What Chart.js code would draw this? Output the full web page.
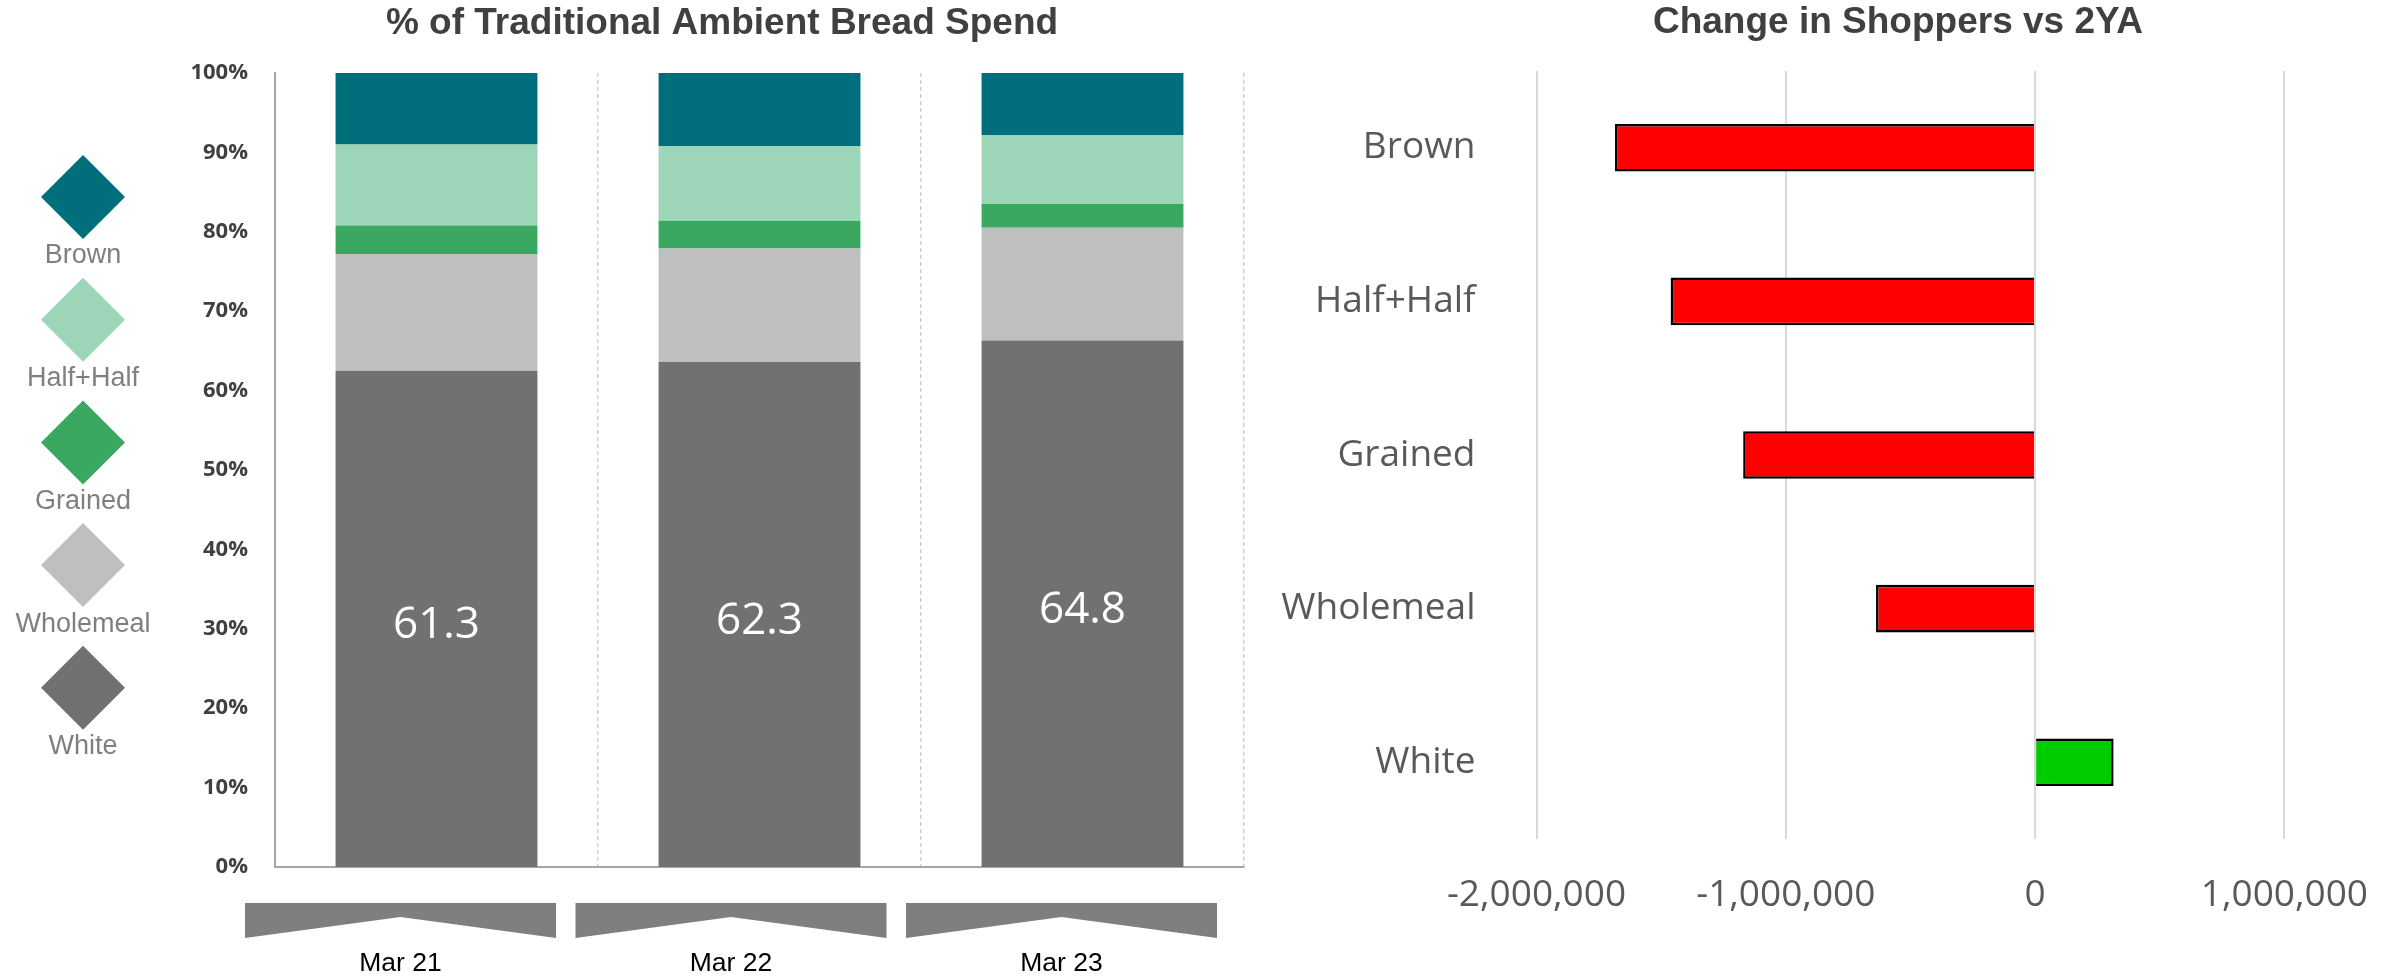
<!DOCTYPE html>
<html>
<head>
<meta charset="utf-8">
<script src="https://cdn.jsdelivr.net/npm/chart.js@4/dist/chart.umd.min.js"></script>
<style>
    html, body { margin: 0; padding: 0; background: #ffffff; }
    #wrap { position: relative; width: 2402px; height: 977px; overflow: hidden; }
    #spendChart { position: absolute; left: 0; top: 0; }
    #shopperChart { position: absolute; left: 1260px; top: 0; }
</style>
</head>
<body>
<div id="wrap">
    <canvas id="spendChart" width="1260" height="977"></canvas>
    <canvas id="shopperChart" width="1142" height="977"></canvas>
</div>
<script>
// data
const periods = ['Mar 21', 'Mar 22', 'Mar 23'];
const whiteShare = [62.5, 63.6, 66.3];
const wholemealShare = [14.7, 14.3, 14.2];
const grainedShare = [3.6, 3.5, 3.0];
const halfShare = [10.2, 9.4, 8.7];
const brownShare = [9.0, 9.2, 7.8];
const whiteLabels = ['61.3', '62.3', '64.8'];
const shareTickStep = 10;

const shopperTypes = ['Brown', 'Half+Half', 'Grained', 'Wholemeal', 'White'];
const shopperChange = [-1685000, -1462000, -1171000, -638000, 315000];
const shopperTickStep = 1000000;

const sansText = '"Open Sans", "Noto Sans", sans-serif';
const arialText = '"Liberation Sans", Arial, sans-serif';

Chart.defaults.animation = false;
Chart.defaults.responsive = false;
Chart.defaults.devicePixelRatio = 1;
Chart.defaults.plugins.legend.display = false;
Chart.defaults.plugins.tooltip.enabled = false;

// Title drawn at a fixed spot over the canvas
const titlePlugin = {
    id: 'fixedTitle',
    afterDraw(chart, args, opts) {
        const ctx = chart.ctx;
        ctx.save();
        ctx.font = 'bold 37px ' + arialText;
        ctx.fillStyle = '#404040';
        ctx.textAlign = 'center';
        ctx.textBaseline = 'middle';
        ctx.fillText(opts.text, opts.x, opts.y);
        ctx.restore();
    }
};

// Diamond legend on the left + white value labels + period banners
const spendDecor = {
    id: 'spendDecor',
    afterDatasetsDraw(chart) {
        const ctx = chart.ctx;
        // labels in the middle of the White segment
        const meta = chart.getDatasetMeta(0);
        ctx.save();
        ctx.font = '44px ' + sansText;
        ctx.fillStyle = '#ffffff';
        ctx.textAlign = 'center';
        ctx.textBaseline = 'middle';
        meta.data.forEach((bar, i) => {
            const c = bar.getCenterPoint();
            ctx.fillText(whiteLabels[i], c.x, c.y + 7);
        });
        ctx.restore();
    },
    afterDraw(chart) {
        const ctx = chart.ctx;
        const sets = chart.data.datasets.slice().reverse();

        ctx.save();
        sets.forEach((ds, i) => {
            const cx = 83;
            const cy = 197 + i * 122.7;
            ctx.fillStyle = ds.backgroundColor;
            ctx.beginPath();
            ctx.moveTo(cx, cy - 42);
            ctx.lineTo(cx + 42, cy);
            ctx.lineTo(cx, cy + 42);
            ctx.lineTo(cx - 42, cy);
            ctx.closePath();
            ctx.fill();

            ctx.font = '27px ' + arialText;
            ctx.fillStyle = '#7f7f7f';
            ctx.textAlign = 'center';
            ctx.textBaseline = 'middle';
            ctx.fillText(ds.label, cx, cy + 59);
        });

        // banner shapes under the axis with the period names
        periods.forEach((p, i) => {
            const left = 245 + i * 330.5;
            const w = 311;
            ctx.fillStyle = '#7f7f7f';
            ctx.beginPath();
            ctx.moveTo(left, 903);
            ctx.lineTo(left + w, 903);
            ctx.lineTo(left + w, 938);
            ctx.lineTo(left + w / 2, 917);
            ctx.lineTo(left, 938);
            ctx.closePath();
            ctx.fill();

            ctx.font = '26.5px ' + arialText;
            ctx.fillStyle = '#000000';
            ctx.textAlign = 'center';
            ctx.textBaseline = 'alphabetic';
            ctx.fillText(p, left + w / 2, 971);
        });
        ctx.restore();
    }
};

const spendCtx = document.getElementById('spendChart').getContext('2d');
new Chart(spendCtx, {
    type: 'bar',
    data: {
        labels: periods,
        datasets: [
            { label: 'White', data: whiteShare, backgroundColor: '#717171' },
            { label: 'Wholemeal', data: wholemealShare, backgroundColor: '#bfbfbf' },
            { label: 'Grained', data: grainedShare, backgroundColor: '#3aa860' },
            { label: 'Half+Half', data: halfShare, backgroundColor: '#9dd5b8' },
            { label: 'Brown', data: brownShare, backgroundColor: '#006f7b' }
        ]
    },
    options: {
        layout: { padding: { top: 73, right: 16, bottom: 110, left: 0 } },
        datasets: { bar: { categoryPercentage: 1, barPercentage: 0.625 } },
        scales: {
            x: {
                stacked: true,
                ticks: { display: false },
                grid: { color: '#d0d0d0', lineWidth: 1.5, drawTicks: false, offset: true },
                border: { color: '#a6a6a6', width: 2, dash: [4, 3] },
                afterFit(scale) { scale.height = 0; }
            },
            y: {
                stacked: true,
                min: 0,
                max: 100,
                ticks: {
                    stepSize: shareTickStep,
                    padding: 27,
                    color: '#404040',
                    font: { family: sansText, size: 22, weight: 'bold' },
                    callback: v => v + '%'
                },
                grid: { display: false, drawTicks: false },
                border: { color: '#a6a6a6', width: 2 },
                afterFit(scale) { scale.width = 275; }
            }
        },
        plugins: {
            fixedTitle: { text: '% of Traditional Ambient Bread Spend', x: 722, y: 24 }
        }
    },
    plugins: [titlePlugin, spendDecor]
});

const shopperCtx = document.getElementById('shopperChart').getContext('2d');
new Chart(shopperCtx, {
    type: 'bar',
    data: {
        labels: shopperTypes,
        datasets: [{
            label: 'Change in Shoppers vs 2YA',
            data: shopperChange,
            backgroundColor: shopperChange.map(v => v < 0 ? '#ff0000' : '#00cc00'),
            borderColor: '#000000',
            borderWidth: 2.5
        }]
    },
    options: {
        indexAxis: 'y',
        layout: { padding: { top: 71, right: 112, bottom: 0, left: 0 } },
        datasets: { bar: { categoryPercentage: 1, barPercentage: 0.31 } },
        scales: {
            x: {
                min: -2000000,
                max: 1000000,
                ticks: {
                    stepSize: shopperTickStep,
                    padding: 34,
                    color: '#595959',
                    font: { family: sansText, size: 37 },
                    callback: v => v.toLocaleString('en-US')
                },
                grid: { color: '#d9d9d9', lineWidth: 2, drawTicks: false },
                border: { display: false },
                afterFit(scale) { scale.height = 138; }
            },
            y: {
                ticks: {
                    padding: 61,
                    color: '#595959',
                    font: { family: sansText, size: 37 }
                },
                grid: { display: false, drawTicks: false },
                border: { display: false },
                afterFit(scale) {
                    scale.width = 276.5;
                    // labels sit in the middle of each band, so no overflow room needed
                    scale.paddingTop = 0;
                    scale.paddingBottom = 0;
                }
            }
        },
        plugins: {
            fixedTitle: { text: 'Change in Shoppers vs 2YA', x: 638, y: 23 }
        }
    },
    plugins: [titlePlugin]
});
</script>
</body>
</html>
